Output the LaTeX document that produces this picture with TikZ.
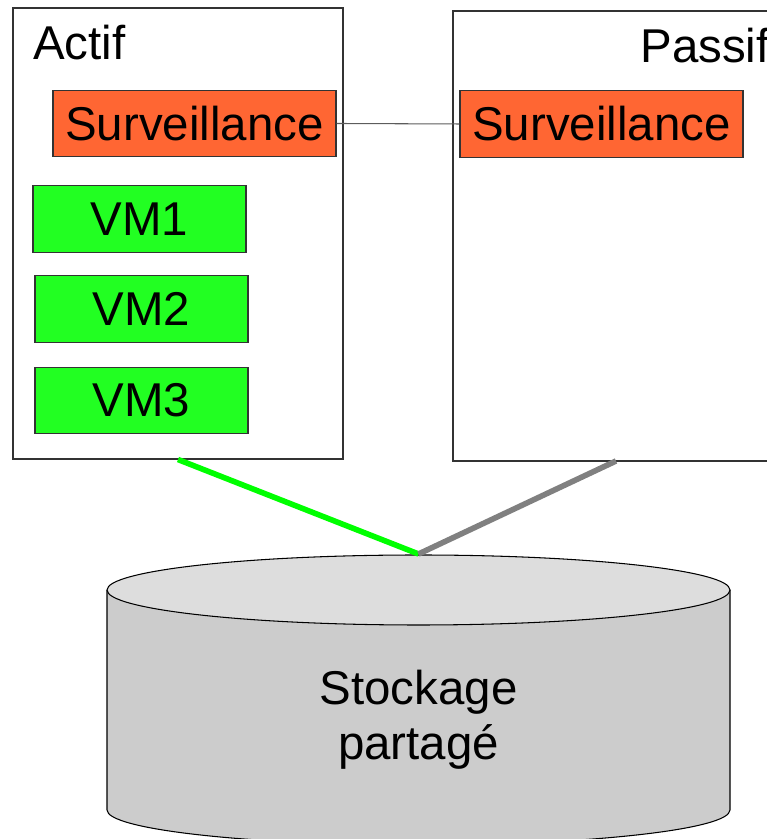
\documentclass[tikz,border=0pt]{standalone}
\usepackage{fontspec}
\setmainfont{Liberation Sans}
\usetikzlibrary{positioning}

\definecolor{survorange}{HTML}{FF6633}
\definecolor{vmgreen}{HTML}{22FF22}
\definecolor{linkgreen}{HTML}{00FF00}
\definecolor{linkgray}{HTML}{808080}
\definecolor{disktopgray}{HTML}{DDDDDD}
\definecolor{diskbodygray}{HTML}{CCCCCC}
\definecolor{framegray}{HTML}{333333}

\tikzset{
  hostbox/.style={draw=framegray, line width=0.6pt, fill=white, rectangle, inner sep=0pt},
  survbox/.style={draw=framegray, line width=0.6pt, fill=survorange, rectangle, inner sep=0pt,
    minimum width=5.66cm, minimum height=1.33cm},
  vmbox/.style={draw=framegray, line width=0.6pt, fill=vmgreen, rectangle, inner sep=0pt,
    minimum width=4.26cm, minimum height=1.33cm},
  bigtext/.style={font=\fontsize{27}{31.5}\selectfont},
  link/.style={line width=3.2pt},
}

\begin{document}
\begin{tikzpicture}

\def\width{15.34}
\def\height{16.78}

\useasboundingbox (0,0) rectangle (\width,\height);
\clip (0,0) rectangle (\width,\height);

% HOSTS
\node [hostbox, minimum width=6.60cm, minimum height=9.02cm] (actif) at (3.56,12.11) {};
\node [hostbox, minimum width=7.14cm, minimum height=9.00cm] (passif) at (12.63,12.06) {};
\node [bigtext, anchor=base west, inner sep=0pt] (actiflabel) at (0.66,15.58) {Actif};
\node [bigtext, anchor=base west, inner sep=0pt] (passiflabel) at (12.80,15.52) {Passif};

% MONITORING
\node [survbox, bigtext] (surv1) at (3.89,14.31) {Surveillance};
\node [survbox, bigtext] (surv2) at (12.03,14.30) {Surveillance};
\draw [line width=0.6pt, draw=framegray!80] (surv1.east) -- (surv2.west);

% VMS
\node [vmbox, bigtext] (vm1) at (2.79,12.40) {VM1};
\node [vmbox, bigtext] (vm2) at (2.83,10.60) {VM2};
\node [vmbox, bigtext] (vm3) at (2.83,8.77) {VM3};

% STORAGE
\fill [diskbodygray] (2.14,4.98) -- (2.14,0.58)
  arc [start angle=180, end angle=360, x radius=6.23, y radius=0.70] -- (14.60,4.98) -- cycle;
\draw [line width=0.6pt] (2.14,4.98) -- (2.14,0.58)
  arc [start angle=180, end angle=360, x radius=6.23, y radius=0.70] -- (14.60,4.98);
\filldraw [fill=disktopgray, line width=0.6pt] (8.37,4.98) ellipse [x radius=6.23, y radius=0.70];
\coordinate (disktop) at (8.37,5.70);
\node [bigtext, align=center] (disk) at (8.37,2.38) {Stockage\\partagé};

% LINKS
\coordinate (plink) at (12.32,7.56);
\draw [link, linkgreen] (actif.south) -- (disktop);
\draw [link, linkgray] (plink) -- (disktop);

\end{tikzpicture}
\end{document}
